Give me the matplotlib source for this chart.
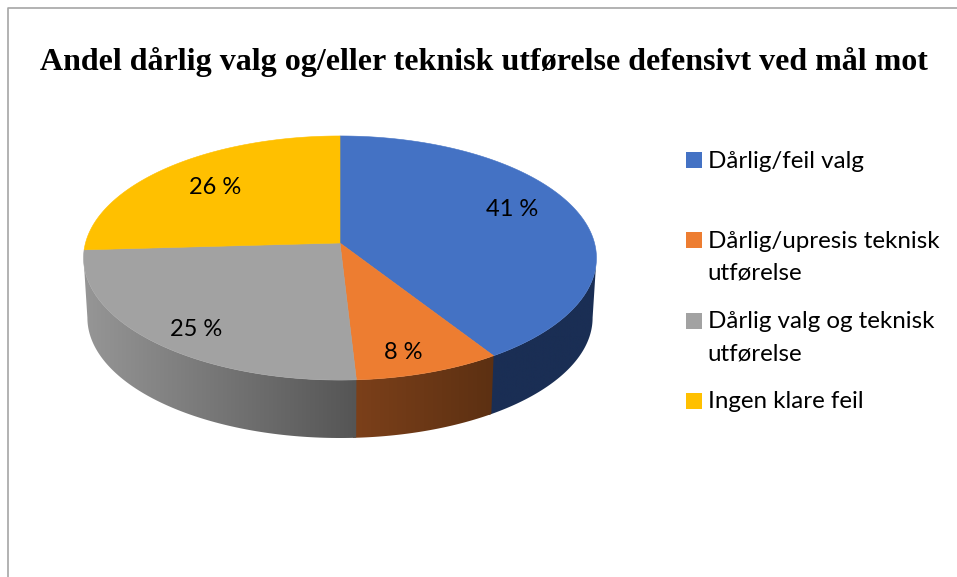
import numpy as np
import matplotlib
matplotlib.use('Agg')
import matplotlib.pyplot as plt
from matplotlib.patches import Polygon

# chart data
title = 'Andel dårlig valg og/eller teknisk utførelse defensivt ved mål mot'
categories = ['Dårlig/feil valg', 'Dårlig/upresis teknisk\nutførelse', 'Dårlig valg og teknisk\nutførelse', 'Ingen klare feil']
values = [40.9, 8.2, 25.0, 25.9]
colors = ['#4472C4', '#ED7D31', '#A2A2A2', '#FFC000']
wall_left = ['#1A2E54', '#7C401A', '#969696', '#7F6000']
wall_right = ['#1A2E54', '#5C3012', '#555555', '#7F6000']

# pie layout, in pixels of the figure
k = 0.123
cx, cy = 340, 243
rx, ry = 254.5, 120.2
bottom_cy, bottom_scale = 303, 0.985
label_nudge = [(5, -10.5), (3, 22), (-17, 19.5), (-3, -0.5)]
legend_y = [159.5, 239.5, 320.5, 400.5]

# the side wall shows only between the right and left extremes of the rim
wall_from = np.arccos(-k) / (2 * np.pi)
wall_to = 1 - wall_from


def project(frac, r=1.0, top=True):
    # frac is share of the circle, clockwise from 12 o'clock
    a = 2 * np.pi * np.asarray(frac)
    x = r * np.sin(a)
    y = r * np.cos(a)
    d = 1 + k * y
    px = rx * x / d
    py = ry * y / d
    if top:
        return cx + px, cy - py
    return cx + bottom_scale * px, bottom_cy - bottom_scale * py


fig = plt.figure(figsize=(9.57, 5.77), dpi=100)
ax = fig.add_axes([0, 0, 1, 1])
ax.set_xlim(0, 957)
ax.set_ylim(577, 0)
ax.axis('off')

# frame, only top and left are inside the crop
ax.plot([8, 8, 957], [577, 8, 8], color='#A6A6A6', lw=1.2)

ax.text(484, 70, title, ha='center', va='baseline', fontsize=23, fontweight='bold',
        family='Liberation Serif', color='black')

shares = np.array(values) / sum(values)
edges = np.concatenate([[0], np.cumsum(shares)])

# side walls first, each runs a hair under the next one so no seam shows
for i in range(len(values)):
    start = max(edges[i], wall_from)
    end = min(edges[i + 1] + 0.002, wall_to)
    if start >= end:
        continue
    t = np.linspace(start, end, 200)
    tx, ty = project(t)
    bx, by = project(t, top=False)
    pts = np.column_stack([np.concatenate([tx, bx[::-1]]), np.concatenate([ty, by[::-1]])])
    patch = Polygon(pts, closed=True, facecolor='none', edgecolor='none')
    ax.add_patch(patch)
    left = matplotlib.colors.to_rgb(wall_left[i])
    right = matplotlib.colors.to_rgb(wall_right[i])
    grad = np.linspace(left, right, 256)[np.newaxis, :, :]
    im = ax.imshow(grad, extent=[pts[:, 0].min(), pts[:, 0].max(), pts[:, 1].max(), pts[:, 1].min()],
                   aspect='auto', zorder=2 + 0.1 * i)
    im.set_clip_path(patch)
ax.set_xlim(0, 957)
ax.set_ylim(577, 0)

# top faces
for i in range(len(values)):
    t = np.linspace(edges[i], edges[i + 1], 200)
    tx, ty = project(t)
    ax.fill(np.r_[cx, tx], np.r_[cy, ty], color=colors[i], lw=0.4, zorder=3)

# value labels
for i in range(len(values)):
    mid = (edges[i] + edges[i + 1]) / 2
    lx, ly = project(mid, r=0.7)
    ax.text(lx + label_nudge[i][0], ly + label_nudge[i][1], '%.0f %%' % values[i], ha='center', va='center',
            fontsize=17, family='Lato', color='black', zorder=4)

# legend
for i in range(len(categories)):
    ax.scatter([693.5], [legend_y[i]], marker='s', s=117, color=colors[i], lw=0, zorder=4)
    for j, line in enumerate(categories[i].split('\n')):
        ax.text(707.5, legend_y[i] + 8 + j * 32, line, ha='left', va='baseline', fontsize=17.4,
                family='Lato', color='black', zorder=4)

fig.savefig('out.png', dpi=100)
